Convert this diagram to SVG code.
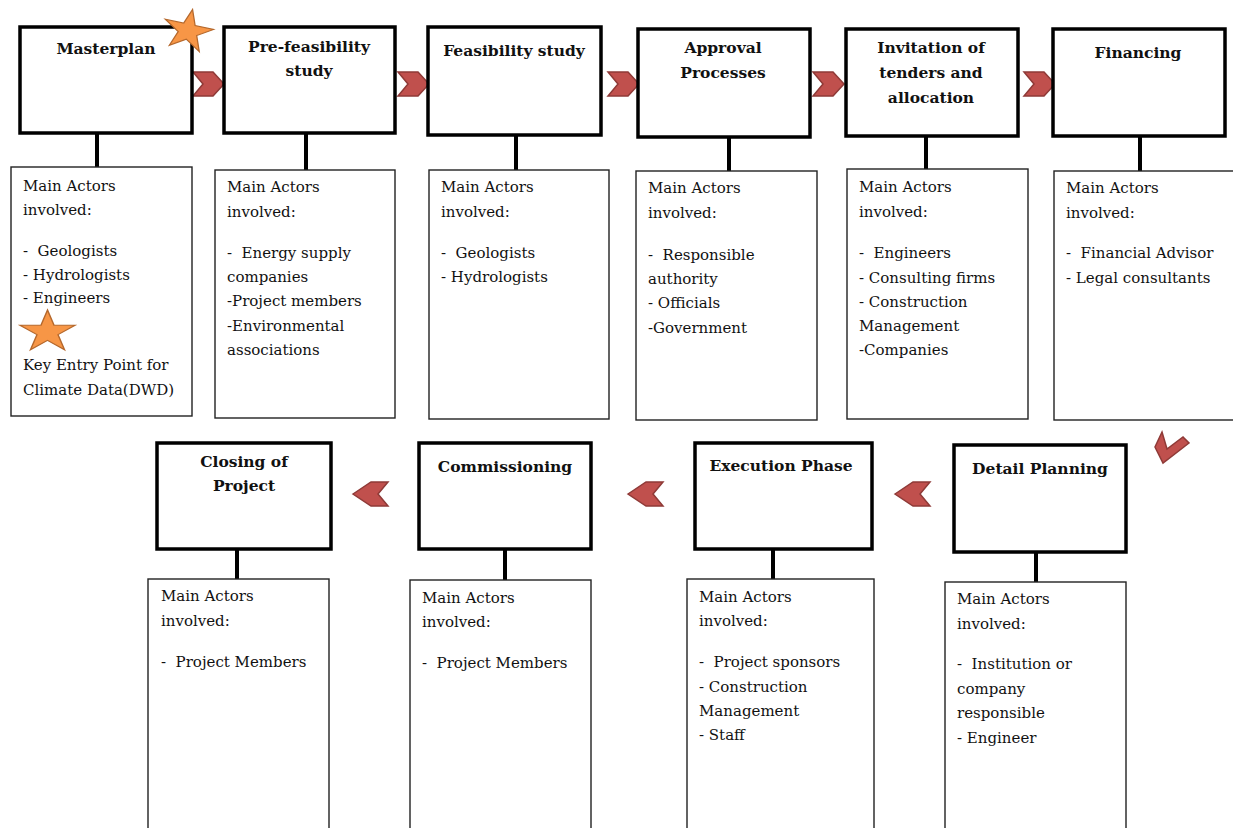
<svg xmlns="http://www.w3.org/2000/svg" width="1233" height="828" viewBox="0 0 1233 828">
<defs>
<style>
.stage{fill:#fff;stroke:#000;stroke-width:3.5}
.actors{fill:#fff;stroke:#222;stroke-width:1.4}
.h{font-family:"DejaVu Serif","Liberation Serif",serif;font-weight:bold;font-size:15.5px;fill:#111;text-anchor:middle}
.t{font-family:"DejaVu Serif","Liberation Serif",serif;font-size:15px;fill:#111}
.conn{stroke:#000;stroke-width:4;fill:none}
.chev{fill:#c0504d;stroke:#8f3a37;stroke-width:1.5;stroke-linejoin:miter}
.star{fill:#f79646;stroke:#b5682c}
</style>
<polygon id="chevR" points="0,0 20,0 31,12 20,24 0,24 10,12"/>
<polygon id="chevL" points="0,12 18,0 35,0 25,12 35,24 18,24"/>
<path id="starShape" d="M0,-1 L0.2245,-0.309 L0.951,-0.309 L0.363,0.118 L0.588,0.809 L0,0.382 L-0.588,0.809 L-0.363,0.118 L-0.951,-0.309 L-0.2245,-0.309 Z"/>
</defs>
<rect width="1233" height="828" fill="#fff"/>

<g id="connectors">
<line class="conn" x1="97" y1="134" x2="97" y2="167"/>
<line class="conn" x1="306" y1="134" x2="306" y2="170"/>
<line class="conn" x1="516" y1="136" x2="516" y2="170"/>
<line class="conn" x1="729" y1="137" x2="729" y2="171"/>
<line class="conn" x1="926" y1="136" x2="926" y2="169"/>
<line class="conn" x1="1140" y1="136" x2="1140" y2="171"/>
<line class="conn" x1="237" y1="549" x2="237" y2="579"/>
<line class="conn" x1="505" y1="549" x2="505" y2="580"/>
<line class="conn" x1="773" y1="549" x2="773" y2="579"/>
<line class="conn" x1="1036" y1="552" x2="1036" y2="582"/>
<g class="chev">
<use href="#chevR" x="193" y="72"/>
<use href="#chevR" x="398" y="72"/>
<use href="#chevR" x="608" y="72"/>
<use href="#chevR" x="813" y="72"/>
<use href="#chevR" x="1024" y="72"/>
<polygon points="1162,432 1167,449 1183,437 1189,443 1163,463 1155,447"/>
<use href="#chevL" x="353" y="482"/>
<use href="#chevL" x="628" y="482"/>
<use href="#chevL" x="895" y="482"/>
</g>
</g>

<g id="masterplan">
<rect class="stage" x="20" y="27" width="172" height="106"/>
<text class="h" x="106" y="54">Masterplan</text>
</g>
<g id="masterplan-actors">
<rect class="actors" x="11" y="167" width="181" height="249"/>
<text class="t" x="23" y="191">Main Actors</text>
<text class="t" x="23" y="215">involved:</text>
<text class="t" x="23" y="256" xml:space="preserve">-  Geologists</text>
<text class="t" x="23" y="280">- Hydrologists</text>
<text class="t" x="23" y="303">- Engineers</text>
<text class="t" x="23" y="370">Key Entry Point for</text>
<text class="t" x="23" y="395">Climate Data(DWD)</text>
</g>

<g id="prefeasibility">
<rect class="stage" x="224" y="27" width="171" height="106"/>
<text class="h" x="309" y="52">Pre-feasibility</text>
<text class="h" x="309" y="76">study</text>
</g>
<g id="prefeasibility-actors">
<rect class="actors" x="215" y="170" width="180" height="248"/>
<text class="t" x="227" y="192">Main Actors</text>
<text class="t" x="227" y="217">involved:</text>
<text class="t" x="227" y="258" xml:space="preserve">-  Energy supply</text>
<text class="t" x="227" y="282">companies</text>
<text class="t" x="227" y="306">-Project members</text>
<text class="t" x="227" y="331">-Environmental</text>
<text class="t" x="227" y="355">associations</text>
</g>

<g id="feasibility">
<rect class="stage" x="428" y="27" width="173" height="108"/>
<text class="h" x="514" y="56">Feasibility study</text>
</g>
<g id="feasibility-actors">
<rect class="actors" x="429" y="170" width="180" height="249"/>
<text class="t" x="441" y="192">Main Actors</text>
<text class="t" x="441" y="217">involved:</text>
<text class="t" x="441" y="258" xml:space="preserve">-  Geologists</text>
<text class="t" x="441" y="282">- Hydrologists</text>
</g>

<g id="approval">
<rect class="stage" x="638" y="29" width="172" height="108"/>
<text class="h" x="723" y="53">Approval</text>
<text class="h" x="723" y="78">Processes</text>
</g>
<g id="approval-actors">
<rect class="actors" x="636" y="171" width="181" height="249"/>
<text class="t" x="648" y="193">Main Actors</text>
<text class="t" x="648" y="218">involved:</text>
<text class="t" x="648" y="260" xml:space="preserve">-  Responsible</text>
<text class="t" x="648" y="284">authority</text>
<text class="t" x="648" y="308">- Officials</text>
<text class="t" x="648" y="333">-Government</text>
</g>

<g id="tenders">
<rect class="stage" x="846" y="29" width="172" height="107"/>
<text class="h" x="931" y="53">Invitation of</text>
<text class="h" x="931" y="78">tenders and</text>
<text class="h" x="931" y="103">allocation</text>
</g>
<g id="tenders-actors">
<rect class="actors" x="847" y="169" width="181" height="250"/>
<text class="t" x="859" y="192">Main Actors</text>
<text class="t" x="859" y="217">involved:</text>
<text class="t" x="859" y="258" xml:space="preserve">-  Engineers</text>
<text class="t" x="859" y="283">- Consulting firms</text>
<text class="t" x="859" y="307">- Construction</text>
<text class="t" x="859" y="331">Management</text>
<text class="t" x="859" y="355">-Companies</text>
</g>

<g id="financing">
<rect class="stage" x="1053" y="29" width="172" height="107"/>
<text class="h" x="1138" y="58">Financing</text>
</g>
<g id="financing-actors">
<rect class="actors" x="1054" y="171" width="190" height="249"/>
<text class="t" x="1066" y="193">Main Actors</text>
<text class="t" x="1066" y="218">involved:</text>
<text class="t" x="1066" y="258" xml:space="preserve">-  Financial Advisor</text>
<text class="t" x="1066" y="283">- Legal consultants</text>
</g>

<g id="detail-planning">
<rect class="stage" x="954" y="445" width="172" height="107"/>
<text class="h" x="1040" y="474">Detail Planning</text>
</g>
<g id="detail-planning-actors">
<rect class="actors" x="945" y="582" width="181" height="260"/>
<text class="t" x="957" y="604">Main Actors</text>
<text class="t" x="957" y="629">involved:</text>
<text class="t" x="957" y="669" xml:space="preserve">-  Institution or</text>
<text class="t" x="957" y="694">company</text>
<text class="t" x="957" y="718">responsible</text>
<text class="t" x="957" y="743">- Engineer</text>
</g>

<g id="execution">
<rect class="stage" x="695" y="443" width="177" height="106"/>
<text class="h" x="781" y="471">Execution Phase</text>
</g>
<g id="execution-actors">
<rect class="actors" x="687" y="579" width="187" height="260"/>
<text class="t" x="699" y="602">Main Actors</text>
<text class="t" x="699" y="626">involved:</text>
<text class="t" x="699" y="667" xml:space="preserve">-  Project sponsors</text>
<text class="t" x="699" y="692">- Construction</text>
<text class="t" x="699" y="716">Management</text>
<text class="t" x="699" y="740">- Staff</text>
</g>

<g id="commissioning">
<rect class="stage" x="419" y="443" width="172" height="106"/>
<text class="h" x="505" y="472">Commissioning</text>
</g>
<g id="commissioning-actors">
<rect class="actors" x="410" y="580" width="181" height="260"/>
<text class="t" x="422" y="603">Main Actors</text>
<text class="t" x="422" y="627">involved:</text>
<text class="t" x="422" y="668" xml:space="preserve">-  Project Members</text>
</g>

<g id="closing">
<rect class="stage" x="157" y="443" width="174" height="106"/>
<text class="h" x="244" y="467">Closing of</text>
<text class="h" x="244" y="491">Project</text>
</g>
<g id="closing-actors">
<rect class="actors" x="148" y="579" width="181" height="260"/>
<text class="t" x="161" y="601">Main Actors</text>
<text class="t" x="161" y="626">involved:</text>
<text class="t" x="161" y="667" xml:space="preserve">-  Project Members</text>
</g>

<g id="stars">
<use class="star" href="#starShape" transform="translate(188,31) rotate(12) scale(26,22)" style="stroke-width:0.05"/>
<use class="star" href="#starShape" transform="translate(47.5,332) scale(29,22)" style="stroke-width:0.05"/>
</g>
</svg>
